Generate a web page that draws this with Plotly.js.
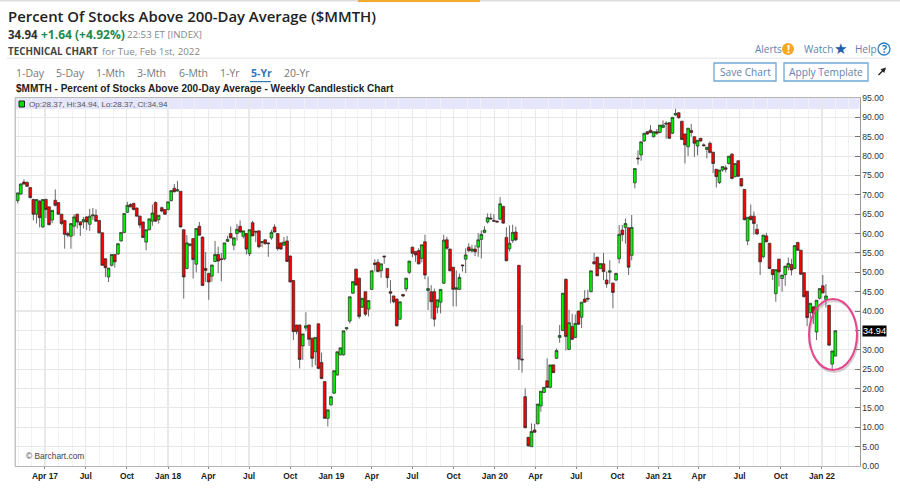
<!DOCTYPE html>
<html>
<head>
<meta charset="utf-8">
<script src="https://cdn.plot.ly/plotly-3.0.1.min.js"></script>
<style>html,body{margin:0;padding:0;background:#fff;overflow:hidden}#chart{width:900px;height:497px}</style>
</head>
<body>
<div id="chart"></div>
<script>
const firstWeek = '2017-01-30';
const open = [
68.5,70.2,73.3,73.2,71.9,68.8,65,68.4,61.7,68.8,
66.9,63.5,68.6,68,65,63.4,60,59.3,61.9,65,
63,63,64.3,62.4,64.6,64.7,63.4,60.2,53.5,48.8,
51.8,54.6,54.7,58.1,60.3,65.5,67.5,67.8,66.6,64.5,
63,57.8,61,63.2,68,63.6,66.7,66.2,66.2,68.5,
71.7,71,70.9,61,51,56.9,58.7,52.1,61.9,59.1,
51,49.7,49,52.8,54.6,53.5,53.5,58,60,57,
60,61.9,59.3,60,54.8,62.8,60.6,60.7,57.7,58.4,
57.6,58.9,61.7,60,57.6,57,58.1,54.2,47.9,36.4,
36.4,31,35.6,36.4,33,29.5,36.7,26.7,21.8,12.3,
15.8,18.8,23.5,28.7,28.7,35.4,37.4,44.6,50.8,48.5,
41,45,40.5,45.6,52.4,52.6,50.4,54.2,51,45,
43.9,43.1,37.9,44.3,45.7,50,56.5,55.4,55.6,53.6,
57.9,45.3,45,45,41,42.3,47.2,58.4,56,51.3,
45.6,45.6,51.9,53.4,56.5,55.5,56,56.5,58.5,60.3,
63,64,63.4,63.2,63.7,67,59,56.1,58.2,60.4,
51.8,27.6,17.9,7.4,5,9.3,10.9,15.5,19,22,
20.3,26.1,27.8,33.2,35,48.2,30.1,36,33.2,40,
38.4,43.1,43.3,45,52.7,53.9,51,52.2,48,50,
47.2,48,53.5,60.9,61.6,61.5,54.4,73.1,79.5,80.3,
83.9,86.3,86.7,85,86.3,86.1,87.4,88.5,88.6,85.9,
90.6,91.2,89,85.7,82.4,86.6,85,82.6,84.6,82.9,
81.7,83.3,81,76.6,73.2,76.4,77,78.1,80.5,74.7,
78.8,74.2,71.4,58.1,64.5,64.5,61.1,57.5,54,59.4,
57.5,50.7,44.5,53.4,48.4,49.4,51.3,52,51,57.7,
55.7,49.9,45.1,39.6,41.1,34.6,43.3,46.5,43,41.5,26.3,28.37];
const high = [
70.6,73,74,73.5,72,69,68.9,68.6,68.9,69,
67,66,71.4,68.1,65.1,63.5,60.5,62.6,65,65.1,
63.2,64.3,64.5,66.4,66.6,66.3,63.5,60.3,53.6,51.1,
54.6,54.7,57.4,60.3,65.2,68.2,67.8,67.9,66.7,64.6,
63.1,61,63.8,67.5,68.3,64.7,67,66.3,68.2,71.1,
72.8,73.6,71,61.1,59.6,57.5,58.8,61.3,63,59.2,
55.2,49.9,51.9,58.1,56.6,55,57.6,59.4,61.8,58.9,
62.5,63.4,60.7,60.1,61,63.3,60.7,60.8,57.9,58.5,
57.7,61,62.4,60.1,57.7,59.1,59.4,54.3,48,36.5,
36.5,34.1,39.7,36.5,33.1,33.2,36.8,29.3,21.9,14.5,
17.9,24.6,29.5,30.5,34.9,35.7,43.7,47.6,51,48.6,
43.3,45.1,42.7,50.4,53.4,53.4,52.2,54.3,51.1,48,
44,43.2,42.4,44.4,48.5,52.9,56.6,55.5,56.2,57.1,
59.7,48.9,46.7,45.8,42.9,45.6,59.7,59.2,56.1,51.4,
50.5,49.7,52,56.2,57.5,57.1,57.1,60.1,60.8,61.9,
65.2,65.2,65,63.4,69.4,67.2,61.6,62.1,62.3,61.8,
51.9,36.4,20,7.5,11,10.9,16,19.3,20.3,27.8,
26.1,26.2,30.3,36.4,44.6,48.4,40.3,39.3,39.1,40.1,
42.3,45.4,45.5,50.4,55,54,52.3,55,50.2,53.1,
47.4,49.9,62.2,62.2,63.9,61.6,64.8,76.8,81.5,83.7,
85.9,86.5,88,86.3,87,88,89.2,89,88.8,90,
92.2,91.3,89.1,85.8,87.2,88.3,85.1,84.1,84.7,83.3,
82.3,83.8,81.1,76.7,76.4,77.3,77.6,80,80.8,78.1,
78.9,74.3,71.5,64.2,67.5,65.7,62.5,57.6,59.7,60.2,
57.6,50.8,50.7,53.5,49.3,51.6,53.8,53.5,56.9,57.9,
55.8,50,45.2,42,41.2,42.8,45.8,49.3,47,41.6,29.7,34.94];
const low = [
67.8,70,72.6,72,69,63.4,62.6,61.6,61.5,64,
62.1,62.7,67,64.9,62.2,56.1,59,56.1,59.4,61.3,
59.4,61.3,60.9,60.7,63.5,63,60,51.7,48.8,47.5,
51.5,51.2,54.6,57.9,60.1,65.3,66.8,66,64.4,61.4,
58.8,55.7,60.8,62,63,62.6,65.5,64.8,66,68.3,
70.6,70.8,61.6,43.2,50.8,56.7,48.4,50,59.5,46.5,
47.5,42.9,47.6,52.6,49.8,47.7,53.1,57.8,58.7,55.7,
58.2,60.2,58.7,54.6,54.2,59.3,57.8,56.2,56.5,57.1,
54,58.4,60.3,55.6,55.8,56.8,52.7,47.4,32.5,34,
25.2,27.4,34.8,31,25.5,26,25,22.4,12.2,10.2,
15.6,18.6,23.3,28.5,28.5,35,36.8,44.4,46.6,38,
40.8,38.7,38.6,45.4,50.2,50,48.6,52.2,46,42,
42,36,37.7,43.6,45,49.5,53.9,52.7,52,52.6,
48.2,40.3,38,36,39.4,39.4,47,55.8,50.2,41.2,
41.2,45.4,50.2,49.8,55.2,55.1,54.2,54,53.6,60.1,
62.6,63.6,63,62.8,63.5,62.5,52.8,55.4,57.6,58,
24.8,24.1,9.7,5,4.9,8.6,10.7,14,18.8,20.2,
20.1,24,27.6,31.8,34.8,29.8,29.9,32.5,33,36.4,
35.6,42.2,42.4,44.8,52,49,50.8,48,46,47,
40.7,47.8,52.3,58,57.4,49.3,53.1,71.7,77.8,78.8,
83.7,85.5,85.9,84.8,85.5,85.9,87.2,84.5,84.4,85.7,
90.4,89.7,84.1,78.1,80,85,79.8,80.2,83.7,82.5,
79.4,80.7,75.6,71.9,72.8,76,75.8,77.8,74,74.5,
74.6,72.1,63.4,57,63.4,59.7,59.7,49.3,53.6,57.7,
50.8,48,42.4,46.3,45,46.5,50.5,49.2,50.8,55.5,
49.3,43.5,36.1,37.8,36.7,32.5,43,44.5,40.9,31,24.9,28.37];
const close = [
70.5,72.8,72.8,72.2,69.3,65,68.8,64.1,68.8,66.2,
62.3,66,67.3,65,62.6,59.8,59.6,62.6,64.3,63,
62.2,63.6,63,64.5,64.8,63.2,60.2,51.8,51.2,51.1,
54.6,52.7,57.4,60.3,65.2,67.3,66.9,66.2,64.5,62.2,
59,61,63.8,65.3,63.2,64.7,65.8,65,68.2,71.1,
70.8,71.3,61.7,48.8,57.6,57.3,53.3,61.3,59.6,46.6,
50.5,47.5,51.9,54.6,52.9,53.3,57.6,58.5,58.9,58.9,
61.1,60.4,60.7,56,61,59.4,60.4,56.6,57.9,57.4,
57.4,60.3,60.4,56.1,56,57.8,52.8,47.5,34.7,34.7,
27.5,34.1,36.2,32.7,27.8,33.2,25.2,22.6,12.3,14.5,
17.9,24.6,29.5,30.5,34.9,35.7,43.7,47.6,46.7,38.6,
43.3,39.2,42.7,50.4,52,50.2,52.2,54,48.6,44.6,
42.4,36.2,42.4,43.9,48.5,52.9,54.9,54.5,52.2,57.1,
49.3,45.8,42.4,37.9,42.9,45.6,58.3,56.2,50.4,45.6,
46,48.7,51.7,54.5,55.6,56,55.3,58.4,59.8,60.9,
64.1,63.8,63.2,63,67.7,62.7,53,57.5,60.3,58.4,
27.6,27.4,9.9,5.2,8.9,8.7,16,19.3,20.3,20.3,
26.1,24.1,29.8,33.7,44.6,33.4,37,32.7,36.8,36.6,
42.3,42.3,43.1,50.4,52.2,49.1,52.3,50.2,47,50.4,
44.8,49.7,59.8,59.7,62.6,51.3,61.6,76.8,79.3,83.7,
85.9,85.7,86.1,86.3,85.9,88,88,88.3,84.6,90,
91,89.9,84.3,82.9,87.2,86.1,83.3,84.1,83.9,82.7,
82.3,80.9,78.1,74.7,76.4,77.3,76.6,80,74.2,78.1,
74.8,72.3,63.6,64.2,63.6,62.6,59.9,52.7,59.6,57.9,
51,49.4,50.7,50.1,49.3,51.6,52.3,50.6,56.9,55.7,
49.5,43.7,38.3,42,39.4,42.8,45.8,44.7,43.9,31.2,29.7,34.94];
const tickDates = ['2017-04-01','2017-07-01','2017-10-01','2018-01-01','2018-04-01','2018-07-01','2018-10-01','2019-01-01','2019-04-01','2019-07-01','2019-10-01','2020-01-01','2020-04-01','2020-07-01','2020-10-01','2021-01-01','2021-04-01','2021-07-01','2021-10-01','2022-01-01'];
const tickLabels = ['Apr 17','Jul','Oct','Jan 18','Apr','Jul','Oct','Jan 19','Apr','Jul','Oct','Jan 20','Apr','Jul','Oct','Jan 21','Apr','Jul','Oct','Jan 22'];
const yTicks = [0,5,10,15,20,25,30,35,40,45,50,55,60,65,70,75,80,85,90,95];
const yLabels = ['0.00','5.00','10.00','15.00','20.00','25.00','30.00','','40.00','45.00','50.00','55.00','60.00','65.00','70.00','75.00','80.00','85.00','90.00','95.00'];
const tabs = ['1-Day','5-Day','1-Mth','3-Mth','6-Mth','1-Yr','5-Yr','20-Yr'];
const tabX = [15,55,95,136,178,219,250,283];

const W = 900, H = 497;
const px = x => x / W;
const py = y => 1 - y / H;
const weeks = open.map((_, i) => {
  const d = new Date(firstWeek + 'T00:00:00Z');
  d.setUTCDate(d.getUTCDate() + 7 * i);
  return d.toISOString().slice(0, 10);
});
const HEAD = '"Open Sans", sans-serif';
const ARIAL = '"Liberation Sans", Arial, sans-serif';
function label(text, x, y, size, color, opts) {
  const o = opts || {};
  return {
    text, xref: 'paper', yref: 'paper', x: px(x), y: py(y), showarrow: false,
    xanchor: o.anchor || 'left', yanchor: 'middle', borderpad: o.pad || 0,
    bgcolor: o.bg, font: {family: o.family || HEAD, size, color, weight: o.weight || 400}
  };
}
function rect(x0, y0, x1, y1, fill, line, lw, layer) {
  return {type: 'rect', xref: 'paper', yref: 'paper', x0: px(x0), x1: px(x1), y0: py(y0), y1: py(y1),
    fillcolor: fill || 'rgba(0,0,0,0)', line: {color: line || 'rgba(0,0,0,0)', width: lw || 0}, layer: layer || 'above'};
}
function oval(x0, y0, x1, y1, fill, line, lw) {
  return {type: 'circle', xref: 'paper', yref: 'paper', x0: px(x0), x1: px(x1), y0: py(y0), y1: py(y1),
    fillcolor: fill || 'rgba(0,0,0,0)', line: {color: line || 'rgba(0,0,0,0)', width: lw || 0}, layer: 'above'};
}
const linkBlue = '#5f83ad';
const annotations = [
  label('Percent Of Stocks Above 200-Day Average ($MMTH)', 7, 16, 14.9, '#222', {weight: 600}),
  label('34.94', 7, 34, 11.5, '#333', {weight: 700}),
  label('+1.64 (+4.92%)', 40, 34, 12, '#1f8a4c', {weight: 700}),
  label('22:53 ET [INDEX]', 125.5, 34.5, 9.7, '#888'),
  label('TECHNICAL CHART', 7, 51, 9.8, '#444', {weight: 700}),
  label('for Tue, Feb 1st, 2022', 101, 51, 9.8, '#888'),
  label('$MMTH - Percent of Stocks Above 200-Day Average - Weekly Candlestick Chart', 15, 89, 10.05, '#222', {family: ARIAL, weight: 700}),
  label('Op:28.37, Hi:34.94, Lo:28.37, Cl:34.94', 28, 104, 8.1, '#555', {family: ARIAL}),
  label('© Barchart.com', 25, 456, 8.4, '#444', {family: ARIAL}),
  label('Alerts', 754, 49, 10, linkBlue),
  label('!', 788, 49, 11, '#fff', {anchor: 'center', weight: 700}),
  label('Watch', 803, 49, 10, linkBlue),
  label('★', 840, 48.5, 15, '#1f5fae', {anchor: 'center', family: '"DejaVu Sans"'}),
  label('Help', 854, 49, 10, linkBlue),
  label('?', 884, 49, 10.5, '#2f7fc1', {anchor: 'center', weight: 700}),
  label('Save Chart', 745, 72, 10.2, linkBlue, {anchor: 'center'}),
  label('Apply Template', 826, 72, 10.2, linkBlue, {anchor: 'center'}),
  label('34.94', 862, 331, 9.2, '#fff', {family: ARIAL, bg: '#000'}),
  {xref: 'paper', yref: 'paper', x: px(886), y: py(67.5), axref: 'pixel', ayref: 'pixel', ax: -9, ay: 9,
    showarrow: true, arrowhead: 2, arrowsize: 0.8, arrowwidth: 1.3, arrowcolor: '#222', text: ''}
];
tabs.forEach((t, i) => {
  const active = t === '5-Yr';
  annotations.push(label(t, tabX[i], 73, 10.5, active ? '#2f78bd' : '#777', {weight: active ? 700 : 400}));
});
const shapes = [
  rect(0, 0, 900, 1.6, '#dcdcdc'),
  rect(358, 0, 480, 2, '#f2a92c'),
  rect(7, 57.8, 890, 58.6, '#dcdcdc'),
  rect(250, 81, 271, 82.2, '#2f78bd'),
  rect(15, 98, 859.5, 109, 'rgba(220,220,250,0.75)', null, 0, 'below'),
  rect(19, 101, 24.5, 107, '#00e000', '#222', 1),
  rect(14.5, 98, 16, 466, '#c4c4c4'),
  oval(782, 43, 794, 55, '#f7a823'),
  oval(878, 43, 890, 55, '#fff', '#2f7fc1', 1.3),
  rect(714, 63, 776, 81, '#fff', '#6fa8d6', 1.3, 'below'),
  rect(784, 63, 868, 81, '#fff', '#6fa8d6', 1.3, 'below'),
  oval(810, 301, 858, 372, null, 'rgba(120,120,120,0.35)', 2),
  oval(809, 299, 857, 370, null, '#e8458f', 2)
];
const traces = [{
  type: 'candlestick', x: weeks, open, high, low, close,
  increasing: {fillcolor: '#00f500', line: {color: '#2a2a2a', width: 0.7}},
  decreasing: {fillcolor: '#fa0000', line: {color: '#2a2a2a', width: 0.7}},
  whiskerwidth: 0, hoverinfo: 'x+y'
}];
const layout = {
  width: W, height: H, paper_bgcolor: '#fff', plot_bgcolor: '#fff', showlegend: false,
  margin: {l: 0, r: 0, t: 0, b: 0}, boxgap: 0.08, boxgroupgap: 0.05, annotations, shapes,
  xaxis: {
    domain: [px(15), px(859.5)], range: ['2017-01-24', '2022-03-26'], type: 'date',
    rangeslider: {visible: false}, tickmode: 'array', tickvals: tickDates, ticktext: tickLabels,
    ticks: 'outside', ticklen: 2, tickcolor: '#888', tickangle: 0,
    tickfont: {family: ARIAL, size: 8.4, color: '#222', weight: 700},
    showgrid: true, gridcolor: '#e8e8e8', gridwidth: 1.2,
    minor: {dtick: 'M1', tick0: '2017-01-01', showgrid: true, gridcolor: '#f2f2f2', gridwidth: 1, ticks: ''},
    showline: true, linecolor: '#b5b5b5', linewidth: 1.2, mirror: true, zeroline: false
  },
  yaxis: {
    domain: [py(466), py(98)], range: [0, 95], side: 'right',
    tickmode: 'array', tickvals: yTicks, ticktext: yLabels,
    ticks: 'inside', ticklen: 5, tickcolor: '#777',
    tickfont: {family: ARIAL, size: 8.6, color: '#333'},
    showgrid: true, gridcolor: '#e8e8e8', gridwidth: 1.2,
    showline: true, linecolor: '#999', linewidth: 1, zeroline: false
  }
};
Plotly.newPlot('chart', traces, layout, {displayModeBar: false, staticPlot: true});
</script>
</body>
</html>
